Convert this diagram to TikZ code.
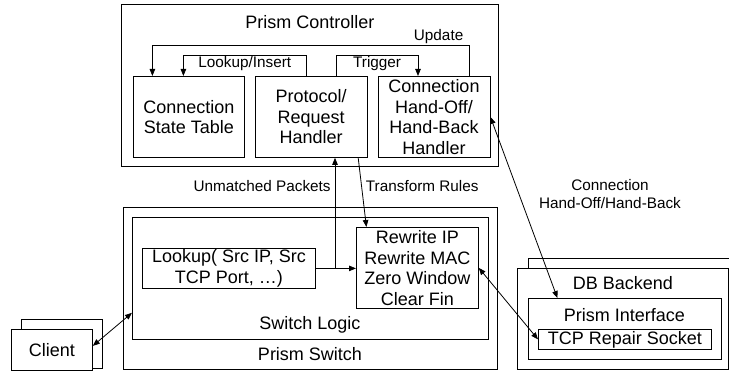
\documentclass[tikz,border=0pt]{standalone}
\usepackage{fontspec}
\setmainfont{Liberation Sans}
\usetikzlibrary{arrows.meta,positioning}

\begin{document}
\begin{tikzpicture}[
    x=1pt, y=-1pt,
    box/.style={draw, align=center, inner sep=0pt, font=\fontsize{18}{20.5}\selectfont},
    frame/.style={draw, inner sep=0pt, anchor=north west},
    title/.style={font=\fontsize{18}{20.5}\selectfont},
    lbl/.style={font=\fontsize{15.3}{17.5}\selectfont, align=center, inner sep=1pt},
    >={Triangle[length=7pt,width=5.5pt]},
    line width=0.8pt,
    node distance=10pt
  ]
    \clip (0,0) rectangle (729,371);
    % controller
    \node[frame, minimum width=377pt, minimum height=162pt] (ctrl) at (121,4) {};
    \node[title] (ctrltitle) at (310,22) {Prism Controller};
    \node[box, minimum width=111pt, minimum height=81pt, anchor=north west] (cst) at (133,76) {Connection\\State Table};
    \node[box, minimum width=112pt, minimum height=81pt, right=of cst] (proto) {Protocol/\\Request\\Handler};
    \node[box, minimum width=112pt, minimum height=81pt, right=of proto] (hand) {Connection\\Hand-Off/\\Hand-Back\\Handler};

    % switch
    \node[frame, minimum width=374pt, minimum height=162pt] (switch) at (123,207) {};
    \node[frame, minimum width=356pt, minimum height=122pt] (logic) at (132,217) {};
    \node[box, minimum width=173pt, minimum height=40pt, anchor=north west] (lookup) at (142,248) {Lookup( Src IP, Src\\TCP Port, …)};
    \node[box, minimum width=122pt, minimum height=81pt, anchor=north west] (rewrite) at (356,227) {Rewrite IP\\Rewrite MAC\\Zero Window\\Clear Fin};
    \node[title] (logictitle) at (310,325) {Switch Logic};
    \node[title] (switchtitle) at (310,354) {Prism Switch};

    % backend
    \node[frame, fill=white, minimum width=215pt, minimum height=101pt] (dbback) at (528,258) {};
    \node[frame, fill=white, minimum width=211pt, minimum height=101pt] (db) at (517,268) {};
    \node[title] (dbtitle) at (623,283) {DB Backend};
    \node[frame, minimum width=193pt, minimum height=61pt] (iface) at (528,298) {};
    \node[title] (ifacetitle) at (624.5,315) {Prism Interface};
    \node[box, minimum width=173pt, minimum height=20pt, anchor=north west] (tcp) at (538,329) {TCP Repair Socket};

    % client
    \node[frame, fill=white, minimum width=81pt, minimum height=49pt] (clientbk) at (21,319) {};
    \node[box, fill=white, minimum width=81pt, minimum height=41pt, anchor=north west] (client) at (11,329) {Client};

    % connectors
    \draw[->] ([xshift=35pt]hand.north) -- ++(0,-31) -| node[lbl, above, pos=0.048] (updlbl) {Update} ([xshift=-36.5pt]cst.north);
    \draw[->] ([xshift=-5pt]proto.north) -- ++(0,-21) -| node[lbl, below, pos=0.25] (lilbl) {Lookup/Insert} ([xshift=-5.5pt]cst.north);
    \draw[->] ([xshift=25pt]proto.north) -- ++(0,-21) -| node[lbl, below, pos=0.25] (trglbl) {Trigger} ([xshift=-16pt]hand.north);
    \coordinate (junc) at (335,268);
    \draw[->] (lookup.east) -- (lookup.east -| rewrite.west);
    \draw[->] (junc) -- node[lbl, left, pos=0.74, xshift=-3pt] (umlbl) {Unmatched Packets} (junc |- proto.south);
    \draw[->] ([xshift=47pt]proto.south) -- node[lbl, right, pos=0.41, xshift=3pt] (trlbl) {Transform Rules} ([xshift=-51pt]rewrite.north);
    \draw[<->] (hand.east) -- ([xshift=-67.5pt]iface.north);
    \node[lbl] (hblbl) at (610,194) {Connection\\Hand-Off/Hand-Back};
    \draw[<->] (rewrite.east) -- (tcp.west);
    \draw[<->] ([yshift=4pt]client.east) -- ([yshift=27pt]logic.south west);
  \end{tikzpicture}
\end{document}
